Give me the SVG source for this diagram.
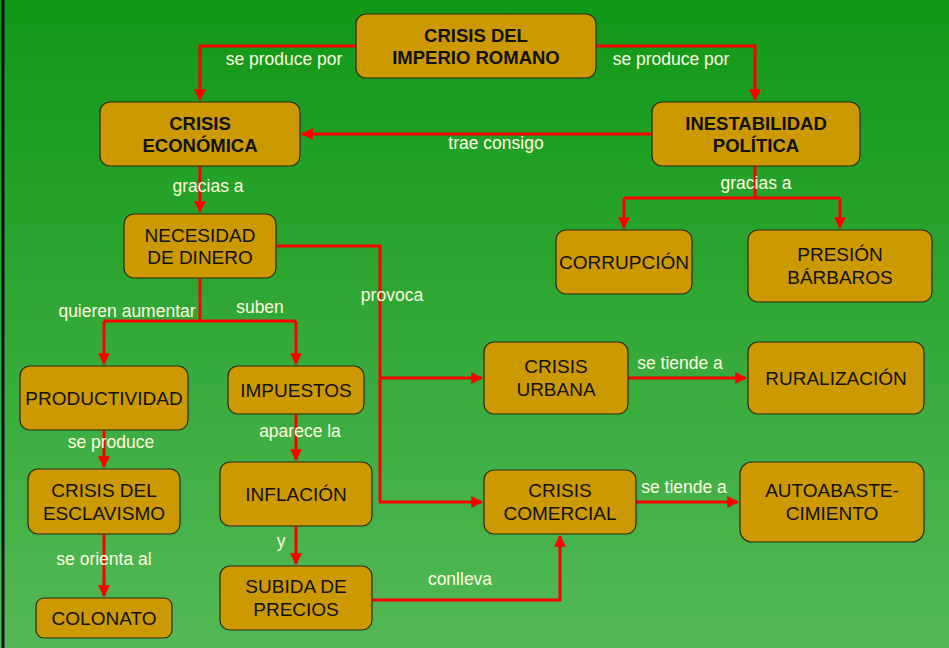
<svg xmlns="http://www.w3.org/2000/svg" width="949" height="648" viewBox="0 0 949 648">
<defs>
<linearGradient id="bg" x1="0" y1="0" x2="0" y2="1">
<stop offset="0" stop-color="#119817"/>
<stop offset="1" stop-color="#53b956"/>
</linearGradient>
<marker id="ar" viewBox="0 0 10 10" refX="9" refY="5" markerWidth="4" markerHeight="4" orient="auto" markerUnits="strokeWidth">
<path d="M0,0 L10,5 L0,10 z" fill="#ff0000"/>
</marker>
<style>
.n rect{fill:#cc9900;stroke:#2a2a1a;stroke-width:1.2}
.n text{font-family:"Liberation Sans","DejaVu Sans",sans-serif;font-size:19px;fill:#111;text-anchor:middle}
.b text{font-weight:bold;font-size:18.5px}
.c path{fill:none;stroke:#ff0000;stroke-width:3}
.l{font-family:"Liberation Sans","DejaVu Sans",sans-serif;font-size:17.5px;fill:#fffbe0;text-anchor:middle}
</style>
</defs>
<rect width="949" height="648" fill="url(#bg)"/>
<line x1="3" y1="0" x2="3" y2="648" stroke="#111" stroke-width="3"/>

<g class="c">
<path d="M356,46 H200 V100" marker-end="url(#ar)"/>
<path d="M596,46 H755 V100" marker-end="url(#ar)"/>
<path d="M652,134 H302" marker-end="url(#ar)"/>
<path d="M200,166 V212" marker-end="url(#ar)"/>
<path d="M755,166 V198"/>
<path d="M624,198 H840"/>
<path d="M624,198 V228" marker-end="url(#ar)"/>
<path d="M840,198 V228" marker-end="url(#ar)"/>
<path d="M200,278 V321"/>
<path d="M104,321 H296"/>
<path d="M104,321 V364" marker-end="url(#ar)"/>
<path d="M296,321 V364" marker-end="url(#ar)"/>
<path d="M276,246 H380 V502 H482" marker-end="url(#ar)"/>
<path d="M380,378 H482" marker-end="url(#ar)"/>
<path d="M104,430 V467" marker-end="url(#ar)"/>
<path d="M104,534 V596" marker-end="url(#ar)"/>
<path d="M296,414 V460" marker-end="url(#ar)"/>
<path d="M296,526 V564" marker-end="url(#ar)"/>
<path d="M372,600 H560 V536" marker-end="url(#ar)"/>
<path d="M628,378 H746" marker-end="url(#ar)"/>
<path d="M636,502 H738" marker-end="url(#ar)"/>
</g>

<g id="lbl">
<text class="l" x="284" y="65">se produce por</text>
<text class="l" x="671" y="65">se produce por</text>
<text class="l" x="496" y="149">trae consigo</text>
<text class="l" x="208" y="192">gracias a</text>
<text class="l" x="756" y="189">gracias a</text>
<text class="l" x="127" y="317">quieren aumentar</text>
<text class="l" x="260" y="313">suben</text>
<text class="l" x="392" y="301">provoca</text>
<text class="l" x="111" y="448">se produce</text>
<text class="l" x="104" y="565">se orienta al</text>
<text class="l" x="300" y="437">aparece la</text>
<text class="l" x="281" y="547">y</text>
<text class="l" x="460" y="585">conlleva</text>
<text class="l" x="680" y="369">se tiende a</text>
<text class="l" x="684" y="493">se tiende a</text>
</g>

<g id="n-imperio" class="n b"><rect x="356" y="14" width="240" height="64" rx="10"/><text x="476" y="42">CRISIS DEL</text><text x="476" y="64">IMPERIO ROMANO</text></g>
<g id="n-economica" class="n b"><rect x="100" y="102" width="200" height="64" rx="10"/><text x="200" y="130">CRISIS</text><text x="200" y="152">ECONÓMICA</text></g>
<g id="n-inestabilidad" class="n b"><rect x="652" y="102" width="208" height="64" rx="10"/><text x="756" y="130">INESTABILIDAD</text><text x="756" y="152">POLÍTICA</text></g>
<g id="n-necesidad" class="n"><rect x="124" y="214" width="152" height="64" rx="10"/><text x="200" y="242">NECESIDAD</text><text x="200" y="264">DE DINERO</text></g>
<g id="n-corrupcion" class="n"><rect x="556" y="230" width="136" height="64" rx="10"/><text x="624" y="269">CORRUPCIÓN</text></g>
<g id="n-presion" class="n"><rect x="748" y="230" width="184" height="72" rx="10"/><text x="840" y="261">PRESIÓN</text><text x="840" y="284">BÁRBAROS</text></g>
<g id="n-productividad" class="n"><rect x="20" y="366" width="168" height="64" rx="10"/><text x="104" y="405">PRODUCTIVIDAD</text></g>
<g id="n-impuestos" class="n"><rect x="228" y="366" width="136" height="48" rx="10"/><text x="296" y="397">IMPUESTOS</text></g>
<g id="n-urbana" class="n"><rect x="484" y="342" width="144" height="72" rx="10"/><text x="556" y="373">CRISIS</text><text x="556" y="396">URBANA</text></g>
<g id="n-ruralizacion" class="n"><rect x="748" y="342" width="176" height="72" rx="10"/><text x="836" y="385">RURALIZACIÓN</text></g>
<g id="n-esclavismo" class="n"><rect x="28" y="469" width="152" height="65" rx="10"/><text x="104" y="497">CRISIS DEL</text><text x="104" y="520">ESCLAVISMO</text></g>
<g id="n-inflacion" class="n"><rect x="220" y="462" width="152" height="64" rx="10"/><text x="296" y="501">INFLACIÓN</text></g>
<g id="n-comercial" class="n"><rect x="484" y="470" width="152" height="64" rx="10"/><text x="560" y="497">CRISIS</text><text x="560" y="520">COMERCIAL</text></g>
<g id="n-autoabaste" class="n"><rect x="740" y="462" width="184" height="80" rx="12"/><text x="832" y="497">AUTOABASTE-</text><text x="832" y="520">CIMIENTO</text></g>
<g id="n-colonato" class="n"><rect x="36" y="598" width="136" height="40" rx="8"/><text x="104" y="625">COLONATO</text></g>
<g id="n-subida" class="n"><rect x="220" y="566" width="152" height="64" rx="10"/><text x="296" y="593">SUBIDA DE</text><text x="296" y="616">PRECIOS</text></g>
</svg>
